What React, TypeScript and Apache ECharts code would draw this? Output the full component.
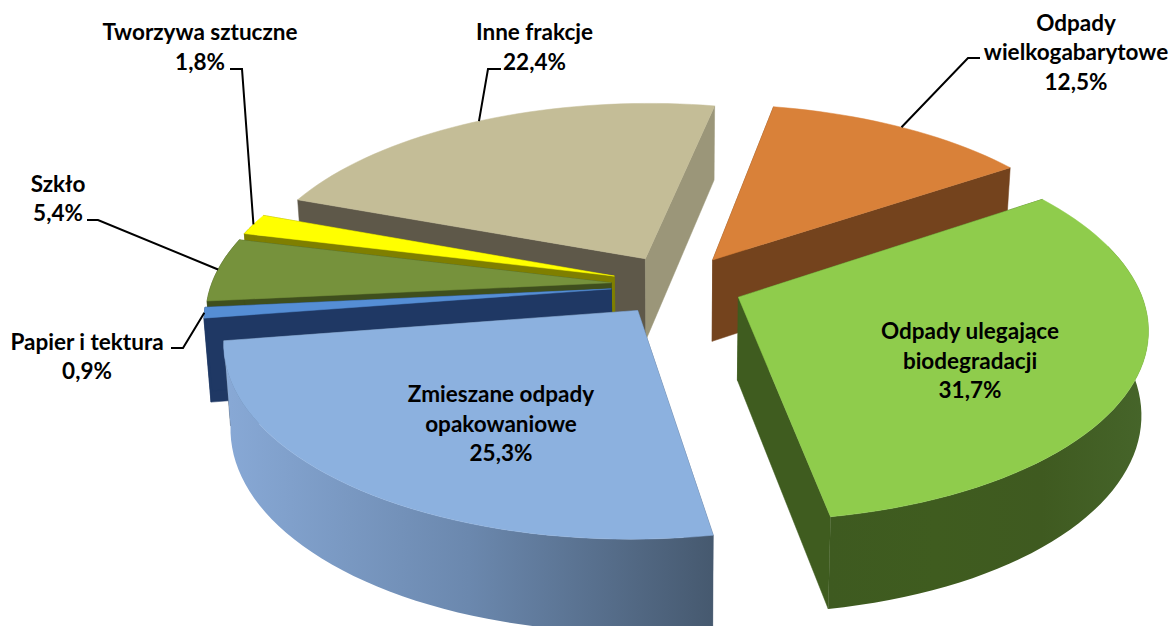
import React, { useEffect, useRef } from "react";
import * as echarts from "echarts";

// Clockwise from the first slice, in percent
const categories = [
  "Odpady wielkogabarytowe",
  "Odpady ulegające biodegradacji",
  "Zmieszane odpady opakowaniowe",
  "Papier i tektura",
  "Szkło",
  "Tworzywa sztuczne",
  "Inne frakcje",
];
const values = [12.5, 31.7, 25.3, 0.9, 5.4, 1.8, 22.4];
const valueLabels = ["12,5%", "31,7%", "25,3%", "0,9%", "5,4%", "1,8%", "22,4%"];
const labelLines = [
  ["Odpady", "wielkogabarytowe", "12,5%"],
  ["Odpady ulegające", "biodegradacji", "31,7%"],
  ["Zmieszane odpady", "opakowaniowe", "25,3%"],
  ["Papier i tektura", "0,9%"],
  ["Szkło", "5,4%"],
  ["Tworzywa sztuczne", "1,8%"],
  ["Inne frakcje", "22,4%"],
];
// Back-to-front painting order
const drawOrder = [6, 5, 4, 3, 0, 1, 2];

const topColors = ["#D98139", "#8FCC4C", "#8CB1DF", "#558ED5", "#76923C", "#FFFF00", "#C4BD97"];
const wallColors = ["#74431D", "#3F5C1F", "#46596F", "#1F3864", "#3F4F1D", "#7F7F00", "#5E5849"];
const endWallColors = ["#74431D", "#3F5C1F", "#46596F", "#1F3864", "#3F4F1D", "#7F7F00", "#9B9679"];
const rimStops = [
  null,
  ["#3E5A20", "#3F5C1F", "#3F5A20", "#46652A"],
  ["#88A9D6", "#6B88AE", "#46596F"],
  null,
  null,
  null,
  null,
];

// Camera and pie geometry of the 3-D view
const START_ANGLE = 11;
const CX = 677;
const CY = 285;
const RX = 400;
const RY = 186;
const PERSPECTIVE = 0.15;
const HEIGHT = 82.5;
const HEIGHT_PERSPECTIVE = 0.1;
const BOTTOM_SCALE = 0.985;
const EXPLODE = 0.165;
const RIM_VISIBLE_COS = 0.3;

// Label placement: text centre, and the elbow of the leader line
const labelCentres: number[][] = [
  [1076, 51.5],
  [970, 360],
  [501, 423],
  [87, 356],
  [58, 198],
  [200, 46.5],
  [534.5, 46.5],
];
const leaderElbows: (number[][] | null)[] = [
  [[980, 58], [968, 58]],
  null,
  null,
  [[171, 348], [183, 348]],
  [[87, 220], [98, 220]],
  [[230, 69], [242, 69]],
  [[501, 69], [488, 69]],
];
const LINE_HEIGHT = 29.5;

const rad = (d: number) => (d * Math.PI) / 180;
const total = values.reduce((a, b) => a + b, 0);
const startAngles: number[] = [];
values.reduce((acc, v, i) => {
  startAngles[i] = START_ANGLE + (acc / total) * 360;
  return acc + v;
}, 0);
const sweep = (i: number) => (values[i] / total) * 360;

function project(i: number, angle: number, r: number, bottom: boolean): number[] {
  const mid = startAngles[i] + sweep(i) / 2;
  const X = r * Math.sin(rad(angle)) + EXPLODE * Math.sin(rad(mid));
  const Y = r * Math.cos(rad(angle)) + EXPLODE * Math.cos(rad(mid));
  const w = 1 + PERSPECTIVE * Y;
  let x = (RX * X) / w;
  let y = CY - (RY * Y) / w;
  if (bottom) {
    x *= BOTTOM_SCALE;
    y += HEIGHT / (1 + HEIGHT_PERSPECTIVE * Y);
  }
  return [CX + x, y];
}

function arcAngles(i: number): number[] {
  const s = sweep(i);
  const n = Math.max(3, Math.ceil(s / 2));
  const out: number[] = [];
  for (let k = 0; k <= n; k++) out.push(startAngles[i] + (s * k) / n);
  return out;
}

const poly = (points: number[][], fill: any) => ({
  type: "polygon",
  shape: { points },
  style: { fill, stroke: typeof fill === "string" ? fill : "none", lineWidth: 0.5 },
  silent: true,
});

function renderSlice(_params: any, api: any) {
  const i = api.value(0) as number;
  const a0 = startAngles[i];
  const a1 = a0 + sweep(i);
  const apexTop = project(i, 0, 0, false);
  const apexBot = project(i, 0, 0, true);
  const angles = arcAngles(i);
  const top = angles.map((a) => project(i, a, 1, false));
  const rimAngles = angles.filter((a) => Math.cos(rad(a)) < RIM_VISIBLE_COS);
  const stops = rimStops[i];
  const rimFill = stops
    ? new echarts.graphic.LinearGradient(
        0,
        0,
        1,
        0,
        stops.map((color, k) => ({ offset: k / (stops.length - 1), color }))
      )
    : wallColors[i];
  const children: any[] = [
    poly([apexTop, project(i, a0, 1, false), project(i, a0, 1, true), apexBot], wallColors[i]),
    poly([apexTop, project(i, a1, 1, false), project(i, a1, 1, true), apexBot], endWallColors[i]),
  ];
  if (rimAngles.length > 1) {
    children.push(
      poly(
        [
          ...rimAngles.map((a) => project(i, a, 1, false)),
          ...rimAngles.slice().reverse().map((a) => project(i, a, 1, true)),
        ],
        rimFill
      )
    );
  }
  children.push(poly([apexTop, ...top], topColors[i]));
  return { type: "group", children };
}

function renderLabel(_params: any, api: any) {
  const i = api.value(0) as number;
  const lines = labelLines[i];
  const [cx, cy] = labelCentres[i];
  const children: any[] = lines.map((text, k) => ({
    type: "text",
    silent: true,
    style: {
      text,
      x: cx,
      y: cy + (k - (lines.length - 1) / 2) * LINE_HEIGHT,
      align: "center",
      verticalAlign: "middle",
      fontFamily: "Lato",
      fontWeight: "bold",
      fontSize: 22.5,
      fill: "#000000",
    },
  }));
  const elbow = leaderElbows[i];
  if (elbow) {
    const anchor = project(i, startAngles[i] + sweep(i) / 2, 1, false);
    children.unshift({
      type: "polyline",
      silent: true,
      shape: { points: [...elbow, anchor] },
      style: { fill: "none", stroke: "#000000", lineWidth: 2 },
    });
  }
  return { type: "group", children };
}

export default function App() {
  const ref = useRef<HTMLDivElement>(null);
  useEffect(() => {
    document.body.style.margin = "0";
    if (!ref.current) return;
    const chart = echarts.init(ref.current, undefined, { renderer: "svg" });
    chart.setOption({
      animation: false,
      backgroundColor: "#ffffff",
      tooltip: { show: false },
      series: [
        {
          type: "custom",
          name: "slices",
          coordinateSystem: "none",
          renderItem: renderSlice,
          silent: true,
          clip: false,
          z: 2,
          data: drawOrder.map((i) => ({ name: categories[i], value: [i, values[i]] })),
        },
        {
          type: "custom",
          name: "labels",
          coordinateSystem: "none",
          renderItem: renderLabel,
          silent: true,
          clip: false,
          z: 3,
          data: categories.map((name, i) => ({ name: `${name} ${valueLabels[i]}`, value: [i, values[i]] })),
        },
      ],
    });
    return () => chart.dispose();
  }, []);
  return <div ref={ref} style={{ width: 1173, height: 626 }} />;
}
